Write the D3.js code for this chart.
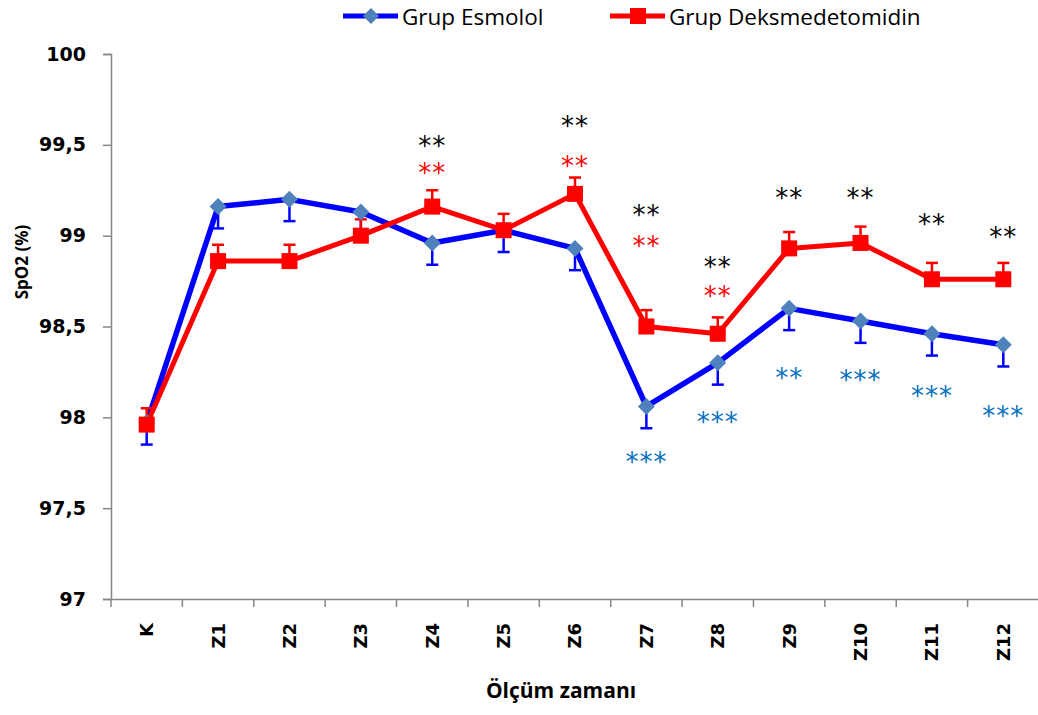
<!DOCTYPE html>
<html lang="tr">
<head>
    <meta charset="utf-8">
    <title>SpO2</title>
    <script type="text/javascript" src="https://d3js.org/d3.v7.min.js"></script>
    <style>
        body { margin: 0; background: white; }
        .ylab text { font-family: "DejaVu Sans", Verdana, sans-serif; font-weight: bold; font-size: 19px; }
        .xlab text { font-family: "DejaVu Sans", Verdana, sans-serif; font-weight: bold; font-size: 18px; }
        .legend text { font-family: "Open Sans", sans-serif; font-size: 22.5px; }
        .title { font-family: "Open Sans", sans-serif; font-weight: bold; }
        .star { font-family: "DejaVu Sans", sans-serif; font-size: 26px; letter-spacing: 1px; }
    </style>
</head>
<body>
<div id="chart"></div>
<script type="text/javascript">
    // data
    const categories = ["K", "Z1", "Z2", "Z3", "Z4", "Z5", "Z6", "Z7", "Z8", "Z9", "Z10", "Z11", "Z12"];
    const esmolol = [97.97, 99.16, 99.20, 99.13, 98.96, 99.03, 98.93, 98.06, 98.30, 98.60, 98.53, 98.46, 98.40];
    const esmololErr = [0.12, 0.12, 0.12, 0.12, 0.12, 0.12, 0.12, 0.12, 0.12, 0.12, 0.12, 0.12, 0.12];
    const deks = [97.96, 98.86, 98.86, 99.00, 99.16, 99.03, 99.23, 98.50, 98.46, 98.93, 98.96, 98.76, 98.76];
    const deksErr = [0.09, 0.09, 0.09, 0.09, 0.09, 0.09, 0.09, 0.09, 0.09, 0.09, 0.09, 0.09, 0.09];
    const yTicks = [97, 97.5, 98, 98.5, 99, 99.5, 100];
    const yTickLabels = ["97", "97,5", "98", "98,5", "99", "99,5", "100"];

    // significance marks: category, text, level
    const starsBlack = [["Z4", "**", 99.52], ["Z6", "**", 99.63], ["Z7", "**", 99.14], ["Z8", "**", 98.85],
                        ["Z9", "**", 99.23], ["Z10", "**", 99.23], ["Z11", "**", 99.09], ["Z12", "**", 99.02]];
    const starsRed = [["Z4", "**", 99.37], ["Z6", "**", 99.41], ["Z7", "**", 98.97], ["Z8", "**", 98.69]];
    const starsBlue = [["Z7", "***", 97.78], ["Z8", "***", 98.00], ["Z9", "**", 98.24],
                       ["Z10", "***", 98.23], ["Z11", "***", 98.14], ["Z12", "***", 98.03]];

    const width = 1038;
    const height = 715;
    const plotLeft = 111, plotRight = 1039, plotTop = 54, plotBottom = 599;

    const svg = d3.select("#chart")
        .append("svg")
        .attr("width", width)
        .attr("height", height);

    const x = d3.scaleBand().domain(categories).range([plotLeft, plotRight]).padding(0);
    const y = d3.scaleLinear().domain([97, 100]).range([plotBottom, plotTop]);
    const cx = c => x(c) + x.bandwidth() / 2;

    const axisColor = "#868686";

    // y axis
    const gy = svg.append("g")
        .attr("class", "ylab")
        .attr("transform", `translate(${plotLeft},0)`)
        .call(d3.axisLeft(y)
            .tickValues(yTicks)
            .tickSize(8)
            .tickPadding(17)
            .tickFormat((d, i) => yTickLabels[i]));
    gy.select(".domain").attr("stroke", axisColor).attr("stroke-width", 1.5);
    gy.selectAll(".tick line").attr("stroke", axisColor).attr("stroke-width", 1.5);
    gy.selectAll(".tick text").attr("fill", "black");

    // x axis
    const gx = svg.append("g")
        .attr("class", "xlab")
        .attr("transform", `translate(0,${plotBottom})`)
        .call(d3.axisBottom(x).tickSize(0).tickSizeOuter(0));
    gx.select(".domain").attr("stroke", axisColor).attr("stroke-width", 1.5);
    gx.selectAll(".tick text")
        .attr("fill", "black")
        .attr("transform", "rotate(-90)")
        .attr("text-anchor", "end")
        .attr("x", -24)
        .attr("y", 0)
        .attr("dy", "0.36em");
    const bounds = categories.map(c => x(c)).concat([x.range()[1]]);
    gx.selectAll(".bound")
        .data(bounds)
        .enter()
        .append("line")
        .attr("x1", d => d).attr("x2", d => d)
        .attr("y1", 0).attr("y2", 8)
        .attr("stroke", axisColor)
        .attr("stroke-width", 1.5);

    // axis titles
    svg.append("text")
        .attr("class", "title")
        .attr("transform", `translate(28,262) rotate(-90)`)
        .attr("text-anchor", "middle")
        .attr("font-size", 17)
        .text("SpO2 (%)");
    svg.append("text")
        .attr("class", "title")
        .attr("x", 561)
        .attr("y", 698)
        .attr("text-anchor", "middle")
        .attr("font-size", 21)
        .text("Ölçüm zamanı");

    const blue = "#0000FF", diamond = "#4F81BD", red = "#FF0000";
    const line = d3.line().x((d, i) => cx(categories[i])).y(d => y(d));

    svg.append("path").datum(esmolol)
        .attr("d", line).attr("fill", "none")
        .attr("stroke", blue).attr("stroke-width", 5.5).attr("stroke-linejoin", "round");
    svg.append("path").datum(deks)
        .attr("d", line).attr("fill", "none")
        .attr("stroke", red).attr("stroke-width", 5).attr("stroke-linejoin", "round");

    // error bars: esmolol downward, deksmedetomidin upward
    function errorBars(values, errs, dir, color) {
        const g = svg.append("g").attr("stroke", color).attr("stroke-width", 2.5);
        values.forEach((v, i) => {
            const px = cx(categories[i]);
            const end = y(v + dir * errs[i]);
            g.append("line").attr("x1", px).attr("x2", px).attr("y1", y(v)).attr("y2", end);
            g.append("line").attr("x1", px - 6).attr("x2", px + 6).attr("y1", end).attr("y2", end);
        });
    }
    errorBars(esmolol, esmololErr, -1, blue);
    errorBars(deks, deksErr, 1, red);

    // markers
    svg.append("g").selectAll("path")
        .data(esmolol)
        .enter()
        .append("path")
        .attr("d", "M0,-8.5L8.5,0L0,8.5L-8.5,0Z")
        .attr("transform", (d, i) => `translate(${cx(categories[i])},${y(d)})`)
        .attr("fill", diamond);
    svg.append("g").selectAll("rect")
        .data(deks)
        .enter()
        .append("rect")
        .attr("x", (d, i) => cx(categories[i]) - 8)
        .attr("y", d => y(d) - 8)
        .attr("width", 16)
        .attr("height", 16)
        .attr("fill", red);

    // stars
    function stars(list, color) {
        svg.append("g").selectAll("text")
            .data(list)
            .enter()
            .append("text")
            .attr("class", "star")
            .attr("x", d => cx(d[0]))
            .attr("y", d => y(d[2]) + 13.5)
            .attr("text-anchor", "middle")
            .attr("fill", color)
            .text(d => d[1]);
    }
    stars(starsBlack, "black");
    stars(starsRed, red);
    stars(starsBlue, "#0070C0");

    // legend
    const lg = svg.append("g").attr("class", "legend");
    lg.append("line").attr("x1", 343).attr("x2", 398).attr("y1", 16).attr("y2", 16)
        .attr("stroke", blue).attr("stroke-width", 5);
    lg.append("path").attr("d", "M0,-8L8,0L0,8L-8,0Z")
        .attr("transform", "translate(371,16)").attr("fill", diamond);
    lg.append("text").attr("x", 402).attr("y", 24.5).text("Grup Esmolol");
    lg.append("line").attr("x1", 610).attr("x2", 665).attr("y1", 16).attr("y2", 16)
        .attr("stroke", red).attr("stroke-width", 5);
    lg.append("rect").attr("x", 630).attr("y", 8).attr("width", 16).attr("height", 16).attr("fill", red);
    lg.append("text").attr("x", 669).attr("y", 24.5).text("Grup Deksmedetomidin");
</script>
</body>
</html>
